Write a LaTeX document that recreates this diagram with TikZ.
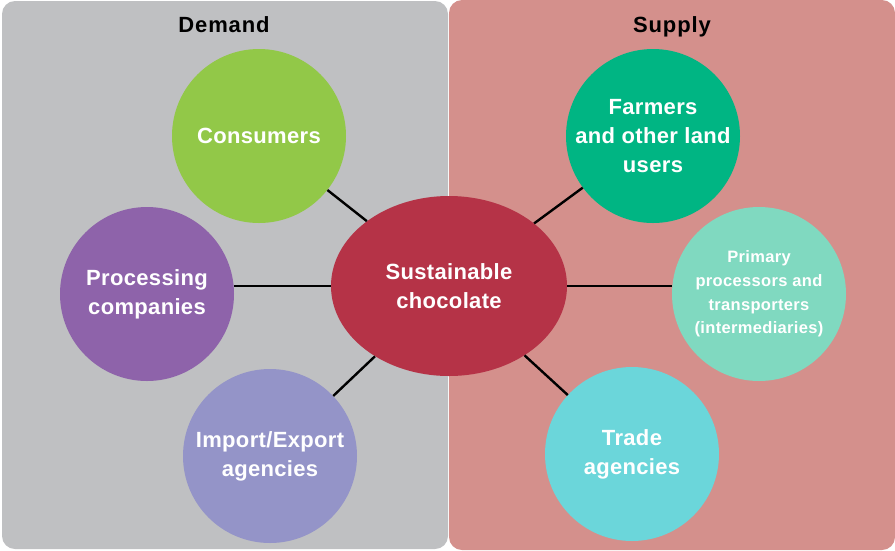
\documentclass[tikz,border=0pt]{standalone}
\usepackage{fontspec}
\setmainfont{Liberation Sans}
\usetikzlibrary{shapes.geometric}
\definecolor{panelL}{HTML}{BFC0C2}
\definecolor{panelR}{HTML}{D4908C}
\definecolor{cCons}{HTML}{92C848}
\definecolor{cProc}{HTML}{8E63AA}
\definecolor{cImp}{HTML}{9494C8}
\definecolor{cCen}{HTML}{B53347}
\definecolor{cFarm}{HTML}{00B583}
\definecolor{cPrim}{HTML}{80D9C0}
\definecolor{cTrade}{HTML}{6BD6DA}
\tikzset{
  panel/.style={rounded corners=13pt, draw=none},
  bubble/.style={circle, minimum size=174pt, inner sep=0pt, align=center, text=white,
    font=\fontsize{22}{29}\selectfont\bfseries\addfontfeature{LetterSpace=1.5}},
  small/.style={font=\fontsize{16.5}{23.7}\selectfont\bfseries\addfontfeature{LetterSpace=2}},
  head/.style={font=\fontsize{22}{25}\selectfont\bfseries\addfontfeature{LetterSpace=4}, text=black, anchor=base},
  link/.style={line width=2.4pt, draw=black}
}
\begin{document}
\begin{tikzpicture}[x=1pt,y=1pt]
\useasboundingbox (0,0) rectangle (895,-550);
\fill[panel, panelL] (2,-1) rectangle (448,-549);
\fill[panel, panelR] (449,0) rectangle (895,-550);
\node[head] (dem) at (224,-32.5) {Demand};
\node[head] (sup) at (672,-32.5) {Supply};
\node[ellipse, minimum width=236pt, minimum height=180pt, inner sep=0pt, fill=cCen, align=center, text=white,
  font=\fontsize{22}{29}\selectfont\bfseries\addfontfeature{LetterSpace=1.5}] (cen) at (449,-286) {Sustainable\\chocolate};
\node[bubble, fill=cCons] (cons) at (259,-136) {Consumers};
\node[bubble, fill=cProc] (proc) at (147,-294) {Processing\\companies};
\node[bubble, fill=cImp] (imp) at (270,-456) {Import/Export\\agencies};
\node[bubble, fill=cFarm] (farm) at (653,-136) {Farmers\\and other land\\users};
\node[bubble, small, fill=cPrim] (prim) at (759,-294) {Primary\\processors and\\transporters\\(intermediaries)};
\node[bubble, fill=cTrade] (trade) at (632,-454) {Trade\\agencies};
\draw[link] (cen) -- (cons);
\draw[link] (cen) -- (imp);
\draw[link] (cen) -- (farm);
\draw[link] (cen) -- (trade);
\draw[link] (cen.west) -- (cen.west -| proc.east);
\draw[link] (cen.east) -- (cen.east -| prim.west);
\end{tikzpicture}
\end{document}
